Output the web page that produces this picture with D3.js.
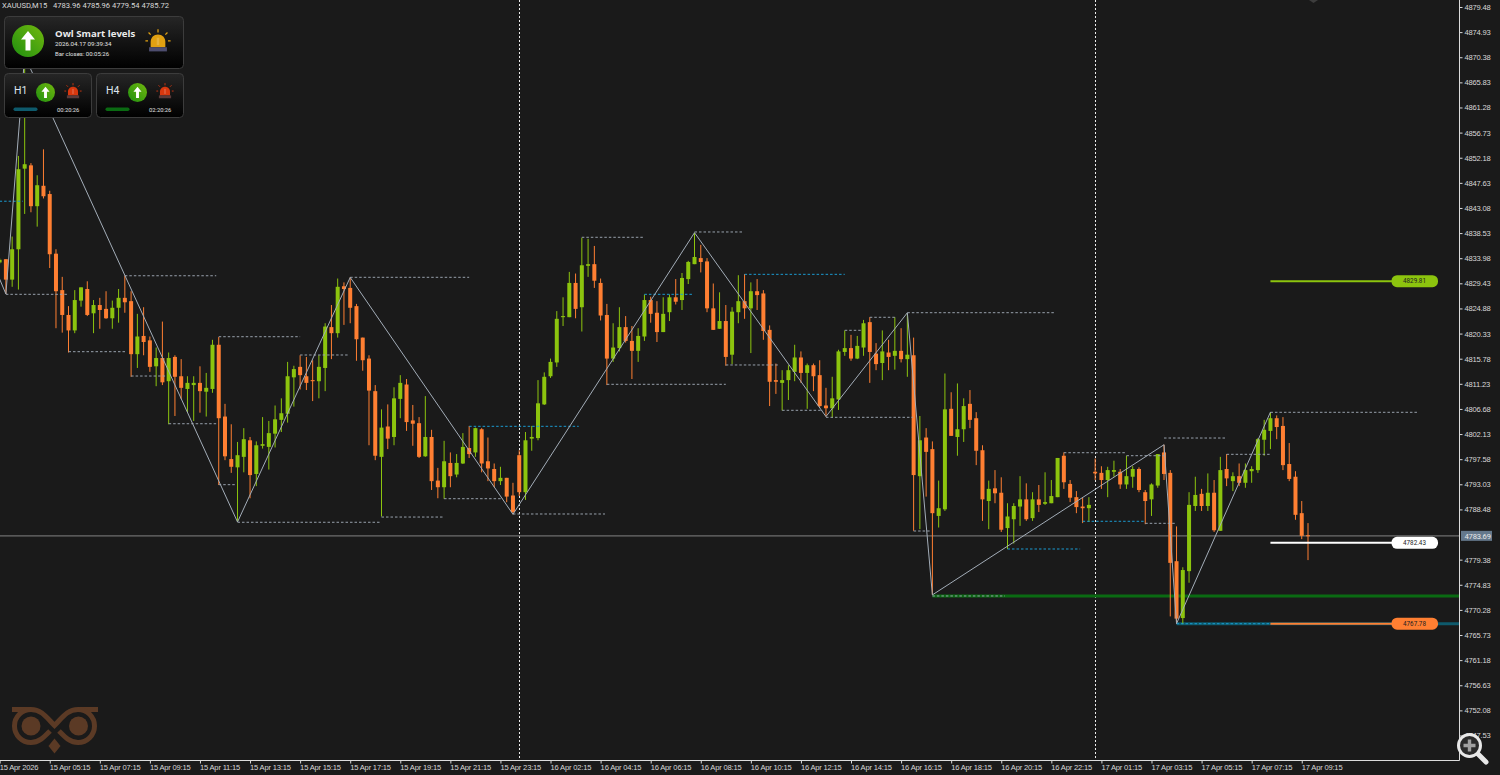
<!DOCTYPE html>
<html>
<head>
<meta charset="utf-8">
<script src="https://cdn.jsdelivr.net/npm/d3@7"></script>
<style>
  html, body { margin: 0; background: #1a1a1a; overflow: hidden; }
  svg { display: block; font-family: Roboto, sans-serif; }
  .domain { stroke: #dcdcdc; }
  .tick line { stroke: #dcdcdc; }
  .tick text { fill: #d8d8d8; font-size: 7.6px; letter-spacing: -0.2px; }
</style>
</head>
<body>
<div id="chart"></div>
<script>
const W = 1500, H = 775;

// M15 bars, first entry is the stub cut off by the left edge
const opens = [4833.2,
  4833.8,4830.1,4835.6,4850.2,4850.8,4843.4,4847.1,4845.6,4834.8,4828.2,
  4823.7,4820.9,4826.3,4828.4,4824.0,4825.5,4824.8,4823.1,4825.0,4826.8,
  4826.2,4816.6,4819.9,4819.1,4814.4,4815.9,4811.7,4816.1,4812.6,4810.3,
  4811.0,4811.4,4809.8,4810.3,4818.3,4805.3,4797.6,4796.1,4798.0,4801.0,
  4794.9,4800.0,4799.8,4802.2,4804.7,4805.8,4812.4,4814.3,4812.6,4811.9,
  4811.7,4814.1,4821.5,4820.4,4828.9,4828.6,4825.3,4819.6,4815.8,4809.9,
  4798.0,4803.5,4801.6,4808.5,4811.1,4804.6,4804.1,4798.1,4801.6,4793.7,
  4792.5,4796.9,4794.8,4796.8,4799.6,4798.8,4803.0,4797.2,4795.8,4793.6,
  4794.2,4791.0,4798.3,4791.6,4801.3,4801.4,4807.5,4812.6,4815.1,4823.3,
  4823.3,4829.5,4825.1,4832.6,4832.9,4829.5,4823.7,4815.8,4817.7,4821.5,
  4819.0,4817.2,4819.8,4826.4,4824.1,4820.6,4824.2,4826.9,4826.4,4830.2,
  4832.9,4834.0,4833.4,4824.9,4821.2,4822.6,4816.5,4824.2,4826.2,4824.9,
  4828.0,4827.6,4821.0,4811.9,4811.4,4811.9,4813.4,4816.0,4813.2,4814.6,
  4812.8,4807.3,4806.8,4808.4,4817.0,4817.7,4815.8,4817.8,4822.4,4816.7,
  4815.0,4816.9,4816.3,4817.2,4815.7,4816.4,4794.5,4801.5,4799.4,4787.3,
  4788.5,4806.7,4801.6,4803.0,4807.6,4805.0,4799.2,4790.0,4792.3,4791.5,
  4785.1,4786.7,4789.0,4790.3,4786.9,4790.3,4789.5,4789.6,4790.7,4798.2,
  4793.1,4790.7,4789.0,4788.7,4795.3,4795.1,4793.8,4795.3,4795.3,4793.0,
  4794.4,4795.8,4791.6,4790.3,4792.8,4798.8,4795.1,4779.1,4768.8,4777.3,
  4789.1,4791.3,4789.1,4791.5,4784.6,4795.8,4793.6,4794.5,4793.3,4795.4,
  4795.6,4801.1,4802.7,4805.0,4803.6,4796.7,4794.4,4787.8,4783.8];
const closes = [4833.7,
  4830.1,4835.6,4850.1,4851.0,4843.4,4847.2,4845.2,4834.7,4828.0,4823.7,
  4820.9,4826.4,4828.7,4823.7,4825.5,4824.6,4823.1,4825.0,4826.8,4826.0,
  4816.6,4819.8,4818.8,4814.3,4815.9,4811.5,4815.9,4812.5,4810.5,4811.4,
  4811.4,4809.9,4810.5,4818.3,4805.0,4798.1,4796.2,4798.3,4801.2,4794.7,
  4800.1,4800.3,4802.3,4804.8,4805.9,4812.6,4813.9,4812.8,4811.4,4811.7,
  4814.3,4821.6,4820.4,4828.8,4828.4,4825.0,4819.3,4815.5,4810.0,4798.2,
  4803.3,4801.3,4808.6,4811.4,4804.3,4804.0,4798.0,4801.6,4793.6,4792.5,
  4797.2,4794.5,4796.9,4799.8,4798.5,4803.2,4796.8,4795.9,4793.6,4794.2,
  4790.8,4788.0,4791.6,4801.0,4801.6,4807.7,4812.5,4815.2,4823.0,4823.5,
  4829.5,4824.8,4832.7,4832.9,4829.9,4823.6,4815.8,4817.8,4821.5,4819.0,
  4817.2,4819.9,4826.4,4823.9,4820.6,4823.9,4826.9,4826.1,4830.4,4833.3,
  4834.2,4833.3,4824.9,4821.0,4822.6,4816.1,4824.3,4826.2,4824.9,4828.0,
  4827.3,4820.8,4811.6,4811.6,4811.9,4813.7,4816.0,4813.2,4814.6,4812.6,
  4807.2,4806.8,4808.6,4817.1,4817.7,4815.8,4818.1,4822.2,4817.0,4814.8,
  4817.1,4816.1,4817.2,4815.7,4816.5,4794.7,4801.0,4798.9,4787.8,4788.7,
  4806.6,4801.8,4803.0,4807.2,4804.7,4799.1,4790.3,4792.2,4791.4,4784.8,
  4787.2,4789.1,4790.3,4786.7,4790.3,4789.3,4789.8,4790.9,4797.8,4793.4,
  4790.6,4788.9,4788.7,4789.3,4795.0,4793.8,4795.6,4795.6,4793.0,4794.5,
  4795.8,4792.0,4790.0,4793.0,4798.5,4794.9,4778.8,4768.7,4777.5,4789.3,
  4791.1,4789.1,4791.5,4784.7,4795.6,4794.1,4794.5,4793.3,4795.6,4795.8,
  4801.2,4802.9,4805.0,4803.4,4796.5,4794.0,4787.5,4783.7,4783.7];
const highs = [4834.0,
  4833.8,4837.9,4852.5,4870.6,4851.2,4849.0,4853.7,4846.2,4835.6,4830.6,
  4825.3,4828.2,4828.7,4829.8,4826.4,4826.8,4828.0,4826.3,4828.4,4830.8,
  4828.0,4823.9,4825.1,4819.8,4817.8,4822.5,4816.9,4816.4,4815.7,4812.6,
  4812.6,4814.4,4813.2,4819.2,4819.7,4807.6,4803.9,4800.7,4803.2,4801.6,
  4800.8,4805.2,4804.5,4807.3,4808.6,4815.2,4814.5,4816.4,4816.1,4815.5,
  4816.4,4822.2,4825.5,4830.3,4829.6,4830.5,4825.7,4819.6,4816.4,4811.0,
  4806.6,4807.5,4810.6,4812.8,4812.1,4807.4,4805.2,4809.0,4802.9,4796.0,
  4800.9,4798.8,4798.5,4802.3,4803.6,4803.3,4803.2,4801.5,4796.8,4796.2,
  4794.2,4793.3,4799.2,4802.5,4803.6,4811.9,4813.3,4815.8,4824.4,4826.9,
  4831.5,4831.2,4837.7,4837.5,4836.2,4830.3,4825.7,4822.2,4825.1,4823.5,
  4821.7,4821.3,4827.4,4827.0,4826.2,4826.9,4827.4,4830.2,4831.3,4833.5,
  4838.6,4836.4,4834.0,4829.4,4827.8,4825.5,4825.1,4830.9,4831.1,4829.6,
  4830.2,4828.2,4821.8,4814.9,4813.7,4814.6,4818.3,4817.1,4814.9,4814.9,
  4815.5,4810.5,4812.5,4817.4,4820.9,4820.1,4819.9,4822.8,4823.3,4818.6,
  4820.9,4819.2,4823.3,4821.3,4824.0,4819.6,4805.4,4803.2,4800.8,4793.7,
  4813.1,4809.7,4811.3,4808.6,4810.1,4806.1,4800.1,4793.7,4795.6,4794.3,
  4789.6,4789.6,4794.5,4793.2,4791.6,4792.9,4795.2,4793.8,4797.8,4798.8,
  4793.8,4791.8,4790.6,4790.7,4797.7,4796.3,4796.2,4797.3,4795.8,4798.2,
  4796.3,4796.1,4792.0,4793.2,4798.5,4800.2,4795.6,4785.4,4778.0,4791.6,
  4794.4,4792.2,4795.0,4793.8,4798.0,4798.5,4795.2,4796.8,4796.8,4796.3,
  4801.4,4804.7,4806.1,4805.5,4805.2,4800.5,4795.4,4790.0,4786.0];
const lows = [4832.9,
  4827.5,4828.8,4828.3,4842.0,4842.3,4839.7,4844.8,4832.2,4821.3,4820.5,
  4816.9,4820.4,4825.2,4823.5,4820.4,4821.2,4823.0,4821.2,4822.3,4824.1,
  4812.5,4814.1,4816.4,4813.4,4810.8,4811.0,4803.9,4805.4,4808.5,4806.1,
  4804.5,4806.0,4805.3,4809.6,4792.9,4797.4,4795.1,4786.2,4795.2,4790.5,
  4792.7,4799.5,4795.7,4799.7,4802.5,4804.2,4807.1,4810.2,4810.1,4808.1,
  4808.6,4809.9,4815.7,4819.6,4821.9,4822.2,4815.4,4813.6,4800.1,4797.4,
  4787.2,4799.4,4800.1,4805.0,4802.7,4800.0,4797.8,4798.0,4792.0,4790.5,
  4790.4,4792.5,4794.3,4796.7,4797.8,4798.0,4795.2,4793.6,4792.5,4792.9,
  4789.8,4787.6,4790.9,4790.2,4799.1,4801.0,4807.4,4812.3,4814.3,4821.7,
  4823.3,4823.1,4820.7,4830.6,4828.6,4822.7,4811.0,4815.2,4817.1,4818.7,
  4812.1,4815.2,4819.0,4822.3,4818.8,4820.6,4822.6,4825.6,4824.6,4829.3,
  4832.9,4831.4,4824.2,4821.0,4821.2,4814.5,4814.8,4822.2,4823.0,4816.8,
  4824.6,4819.2,4807.2,4809.4,4806.4,4808.3,4811.7,4811.4,4806.7,4809.9,
  4806.9,4805.3,4805.1,4806.5,4816.3,4815.4,4815.7,4816.3,4811.4,4813.7,
  4811.9,4813.7,4813.8,4815.1,4812.5,4784.6,4784.9,4790.8,4773.0,4785.2,
  4788.2,4801.8,4798.2,4800.7,4803.2,4796.5,4786.4,4784.9,4789.6,4784.4,
  4781.3,4782.3,4785.5,4786.4,4786.4,4788.0,4789.3,4789.6,4790.7,4792.2,
  4789.8,4787.8,4786.0,4786.2,4793.8,4792.2,4790.7,4794.4,4792.2,4792.2,
  4792.4,4791.6,4785.8,4787.3,4792.4,4793.8,4769.1,4767.8,4767.7,4775.2,
  4788.2,4788.2,4788.2,4784.4,4784.6,4792.7,4791.8,4792.7,4792.4,4793.3,
  4795.1,4798.2,4799.4,4801.2,4795.6,4793.6,4786.6,4783.1,4779.3];

// zigzag pivots
const pivotBars = [0, 1, 4, 38, 56, 82, 111, 132, 145, 149, 186, 188, 203];
const pivotPrices = [4830.2, 4827.5, 4870.6, 4786.2, 4830.5, 4787.6, 4838.6, 4805.3, 4824.1, 4773.0, 4800.2, 4767.8, 4806.1];

// dashed swing levels
const levelFrom = [0, 1, 20, 11, 21, 27, 35, 38, 35, 48, 56, 61, 71, 75, 82, 93, 111, 103, 97, 116, 119, 125, 132, 135, 139, 145, 146, 149, 170, 186, 180, 173, 183, 161, 196, 203, 188];
const levelTo = [3.7, 10.9, 34.6, 20.3, 26.6, 34.9, 37.6, 60.9, 48, 55.8, 75, 71, 80.4, 92.5, 96.7, 103, 118.9, 110.9, 116, 124.6, 135, 131.5, 145.9, 137.6, 143, 168.6, 148.6, 160.6, 180, 196, 186, 183, 187.9, 172.6, 203, 226.6, 203];
const levelPrice = [4844.3, 4827.44, 4830.8, 4817.05, 4812.64, 4804.0, 4792.96, 4786.15, 4819.76, 4816.45, 4830.52, 4787.1, 4790.42, 4803.53, 4787.65, 4837.77, 4838.73, 4827.44, 4811.14, 4814.64, 4831.06, 4806.43, 4805.16, 4820.92, 4823.28, 4824.11, 4784.57, 4772.8, 4798.75, 4801.41, 4798.21, 4786.33, 4785.96, 4781.31, 4798.46, 4806.07, 4767.78];
const levelBlue = [0, 13, 17, 20, 31, 33, 36];

// bar indices of the two session separators
const sessionBars = [83, 175];

const currentPrice = 4783.69;
const bandPrices = [4772.8, 4767.78];
const bandFrom = [149, 188];
const pillPrices = [4829.81, 4782.43, 4767.78];
const pillLabels = ['4829.81', '4782.43', '4767.78'];

const priceLabels = ['4879.48','4874.93','4870.38','4865.83','4861.28','4856.73','4852.18','4847.63','4843.08','4838.53','4833.98','4829.43','4824.88','4820.33','4815.78','4811.23','4806.68','4802.13','4797.58','4793.03','4788.48','4779.38','4774.83','4770.28','4765.73','4761.18','4756.63','4752.08','4747.53'];
const timeLabels = ['15 Apr 2026','15 Apr 05:15','15 Apr 07:15','15 Apr 09:15','15 Apr 11:15','15 Apr 13:15','15 Apr 15:15','15 Apr 17:15','15 Apr 19:15','15 Apr 21:15','15 Apr 23:15','16 Apr 02:15','16 Apr 04:15','16 Apr 06:15','16 Apr 08:15','16 Apr 10:15','16 Apr 12:15','16 Apr 14:15','16 Apr 16:15','16 Apr 18:15','16 Apr 20:15','16 Apr 22:15','17 Apr 01:15','17 Apr 03:15','17 Apr 05:15','17 Apr 07:15','17 Apr 09:15'];

const GREEN = '#8cc40e', ORANGE = '#ff7f32', GREY = '#98a1ac', BLUE = '#1b9bd1';
const PLOT_R = 1459.5, PLOT_B = 760.5;

const x = d3.scaleLinear().domain([0, 209]).range([-0.36, 1308]);
const y = d3.scaleLinear().domain([4879.48, 4747.53]).range([7, 735.5]);

const svg = d3.select('#chart').append('svg')
  .attr('width', W).attr('height', H)
  .attr('viewBox', `0 0 ${W} ${H}`);

const defs = svg.append('defs');
const panelGrad = defs.append('linearGradient').attr('id', 'panelGrad')
  .attr('x1', 0).attr('y1', 0).attr('x2', 0).attr('y2', 1);
panelGrad.append('stop').attr('offset', 0).attr('stop-color', '#262626');
panelGrad.append('stop').attr('offset', 1).attr('stop-color', '#000');
const ballGrad = defs.append('linearGradient').attr('id', 'ballGrad')
  .attr('x1', 0).attr('y1', 1).attr('x2', 1).attr('y2', 0);
ballGrad.append('stop').attr('offset', 0).attr('stop-color', '#1f8f10');
ballGrad.append('stop').attr('offset', 1).attr('stop-color', '#72b80e');

// session separators
svg.append('g').selectAll('line').data(sessionBars).join('line')
  .attr('x1', d => Math.round(x(d)) + 0.5).attr('x2', d => Math.round(x(d)) + 0.5)
  .attr('y1', 0).attr('y2', PLOT_B)
  .attr('stroke', '#ededed').attr('stroke-dasharray', '2,2');

// current price line
svg.append('line')
  .attr('x1', 0).attr('x2', PLOT_R)
  .attr('y1', y(currentPrice)).attr('y2', y(currentPrice))
  .attr('stroke', '#6e6e6e').attr('stroke-width', 1.4);

// support / resistance bands running to the axis
svg.append('g').selectAll('line').data(bandPrices).join('line')
  .attr('x1', (d, i) => x(bandFrom[i])).attr('x2', PLOT_R)
  .attr('y1', d => y(d)).attr('y2', d => y(d))
  .attr('stroke', (d, i) => i === 0 ? '#0a6a12' : '#0e5a6c')
  .attr('stroke-width', 3);

// candles
const bars = opens.map((o, i) => ({ i, o, c: closes[i], h: highs[i], l: lows[i] }));
const candles = svg.append('g').selectAll('g').data(bars).join('g');
candles.append('line')
  .attr('x1', d => x(d.i)).attr('x2', d => x(d.i))
  .attr('y1', d => y(d.h)).attr('y2', d => y(d.l))
  .attr('stroke', d => d.c >= d.o ? GREEN : ORANGE)
  .attr('stroke-width', 1);
candles.append('rect')
  .attr('x', d => x(d.i) - 2).attr('width', 4)
  .attr('y', d => y(Math.max(d.o, d.c)))
  .attr('height', d => Math.max(1, y(Math.min(d.o, d.c)) - y(Math.max(d.o, d.c))))
  .attr('fill', d => d.c >= d.o ? GREEN : ORANGE);

// dashed levels
svg.append('g').selectAll('line').data(levelPrice).join('line')
  .attr('x1', (d, i) => x(levelFrom[i])).attr('x2', (d, i) => x(levelTo[i]))
  .attr('y1', d => y(d)).attr('y2', d => y(d))
  .attr('stroke', (d, i) => levelBlue.includes(i) ? BLUE : GREY)
  .attr('stroke-dasharray', '2.5,2');

// zigzag
const zigzag = d3.line().x(d => x(d[0])).y(d => y(d[1]));
svg.append('path')
  .attr('d', zigzag(pivotBars.map((b, i) => [b, pivotPrices[i]])))
  .attr('fill', 'none').attr('stroke', '#a3adb8').attr('stroke-width', 1);

// smart level lines + value pills
const pillColors = [GREEN, '#ffffff', ORANGE];
const pills = svg.append('g').selectAll('g').data(pillPrices).join('g')
  .attr('transform', d => `translate(0,${y(d)})`);
pills.append('line').attr('x1', x(203)).attr('x2', 1392)
  .attr('stroke', (d, i) => pillColors[i]).attr('stroke-width', 2);
pills.append('rect').attr('x', 1391.5).attr('y', -6).attr('width', 46.5).attr('height', 12).attr('rx', 5.5)
  .attr('fill', (d, i) => pillColors[i]);
pills.append('text').attr('x', 1414.5).attr('y', 2.2).attr('text-anchor', 'middle')
  .attr('font-size', 6.3).attr('fill', '#222').text((d, i) => pillLabels[i]);

// axes
const yAxis = d3.axisRight(y)
  .tickValues(priceLabels.map(Number))
  .tickFormat(d3.format('.2f'))
  .tickSize(3).tickPadding(2);
svg.append('g').attr('transform', `translate(${PLOT_R},0)`).call(yAxis)
  .select('.domain').attr('d', `M0,0V${PLOT_B}`);

const xAxis = d3.axisBottom(x)
  .tickValues(timeLabels.map((d, i) => i * 8))
  .tickFormat((d, i) => timeLabels[i])
  .tickSize(3).tickPadding(1);
const xg = svg.append('g').attr('transform', `translate(0,${PLOT_B})`).call(xAxis);
xg.select('.domain').attr('d', `M0,0H${PLOT_R}`);
xg.selectAll('.tick text').attr('text-anchor', 'start').attr('dx', -0.5);

// current price tag
const tag = svg.append('g').attr('transform', `translate(1461,${y(currentPrice)})`);
tag.append('rect').attr('y', -5).attr('width', 31).attr('height', 10).attr('fill', '#64788c');
tag.append('text').attr('x', 3.5).attr('y', 2.8).attr('font-size', 7.6).attr('letter-spacing', -0.2).attr('fill', '#e8e8e8')
  .text(currentPrice.toFixed(2));

// symbol caption
svg.append('text').attr('x', 2).attr('y', 8).attr('font-size', 7.6).attr('fill', '#d8d8d8')
  .attr('xml:space', 'preserve')
  .text('XAUUSD,M15   4783.96 4785.96 4779.54 4785.72');

function arrowUp(g, cx, cy, s) {
  g.append('path')
    .attr('transform', `translate(${cx},${cy}) scale(${s})`)
    .attr('d', 'M0,-10L7,-1.5H2.5V9.5H-2.5V-1.5H-7Z')
    .attr('fill', '#fff');
}

function alarm(g, cx, cy, s, dome, base) {
  const a = g.append('g').attr('transform', `translate(${cx},${cy}) scale(${s})`);
  a.append('path').attr('d', 'M-7,4V-1C-7,-5 -4,-8 0,-8C4,-8 7,-5 7,-1V4Z').attr('fill', dome);
  a.append('rect').attr('x', -1.2).attr('y', -5).attr('width', 2.4).attr('height', 7).attr('fill', '#fff').attr('opacity', 0.18);
  a.append('rect').attr('x', -8.5).attr('y', 4).attr('width', 17).attr('height', 4).attr('fill', base);
  a.append('path')
    .attr('d', 'M0,-13V-10M-9,-10L-7,-8M9,-10L7,-8M-12,-2H-9.5M12,-2H9.5')
    .attr('stroke', dome).attr('stroke-width', 1.2).attr('fill', 'none');
}

// top left signal panels
const ui = svg.append('g');
const panelX = [4.5, 4.5, 96.5], panelY = [16.5, 73.5, 73.5], panelW = [179, 87, 87], panelH = [52, 44, 44];
ui.selectAll('rect.panel').data(panelX).join('rect').attr('class', 'panel')
  .attr('x', d => d).attr('y', (d, i) => panelY[i])
  .attr('width', (d, i) => panelW[i]).attr('height', (d, i) => panelH[i])
  .attr('rx', 4).attr('fill', 'url(#panelGrad)')
  .attr('stroke', '#3c3c3c');

ui.append('circle').attr('cx', 28).attr('cy', 41).attr('r', 16).attr('fill', 'url(#ballGrad)');
arrowUp(ui, 28, 41, 1);
ui.append('text').attr('x', 55).attr('y', 37).attr('font-family', 'Open Sans')
  .attr('font-size', 9.6).attr('font-weight', 700).attr('fill', '#ececec').text('Owl Smart levels');
ui.append('text').attr('x', 55).attr('y', 46).attr('font-size', 6.2).attr('fill', '#e4e4e4').text('2026.04.17 09:39:34');
ui.append('text').attr('x', 55).attr('y', 56).attr('font-size', 6).attr('fill', '#e4e4e4').text('Bar closes: 00:05:26');
alarm(ui, 158, 43, 1.05, '#e0a011', '#4d4d6e');

const tfNames = ['H1', 'H4'], tfX = [0, 92], tfBars = ['#0e5a6c', '#0a6a12'], tfTimes = ['00:20:26', '02:20:26'];
tfNames.forEach((name, i) => {
  const g = ui.append('g').attr('transform', `translate(${tfX[i]},0)`);
  g.append('text').attr('x', 14).attr('y', 94).attr('font-size', 10.5).attr('fill', '#dfe6ee').text(name);
  g.append('circle').attr('cx', 45.5).attr('cy', 92.5).attr('r', 9.5).attr('fill', 'url(#ballGrad)');
  arrowUp(g, 45.5, 92.5, 0.58);
  alarm(g, 73, 92.5, 0.72, '#d8380f', '#5a3a3a');
  g.append('rect').attr('x', 13.5).attr('y', 107.5).attr('width', 24).attr('height', 3.5).attr('rx', 1.7).attr('fill', tfBars[i]);
  g.append('text').attr('x', 57).attr('y', 112).attr('font-size', 5.8).attr('fill', '#e4e4e4').text(tfTimes[i]);
});

// owl watermark
const owl = svg.append('g').attr('fill', 'none').attr('stroke', '#5b3a25').attr('stroke-width', 5);
owl.append('path').attr('d', 'M12,709.5H31C42,709.5 47,718 54.5,725.5C62,718 67,709.5 78,709.5H98');
owl.append('path').attr('d', 'M31,709.5A16.5,16.5 0 1 0 31,742.5C39,742.5 44,737 50,731');
owl.append('path').attr('d', 'M78,709.5A16.5,16.5 0 1 1 78,742.5C70,742.5 65,737 59,731');
owl.selectAll('circle').data([31, 78.5]).join('circle')
  .attr('cx', d => d).attr('cy', 726).attr('r', 9.5)
  .attr('fill', '#5b3a25').attr('stroke', 'none');
owl.append('path').attr('d', 'M54.5,738.5L60.5,746L54.5,753.5L48.5,746Z').attr('fill', '#5b3a25').attr('stroke', 'none');

// zoom badge
const badge = svg.append('g');
badge.append('line').attr('x1', 1477).attr('y1', 753).attr('x2', 1486).attr('y2', 762)
  .attr('stroke', '#e8e8e8').attr('stroke-width', 5).attr('stroke-linecap', 'round');
badge.append('circle').attr('cx', 1469.5).attr('cy', 745.5).attr('r', 11)
  .attr('fill', '#2a2a2a').attr('stroke', '#e8e8e8').attr('stroke-width', 3);
badge.append('path').attr('d', 'M1469.5,739.5V751.5M1463.5,745.5H1475.5')
  .attr('stroke', '#a0a0a0').attr('stroke-width', 3.4);

// small marker clipped by the top edge
svg.append('path').attr('d', 'M1309,0H1318L1313.5,3Z').attr('fill', '#3d3d3d');
</script>
</body>
</html>
